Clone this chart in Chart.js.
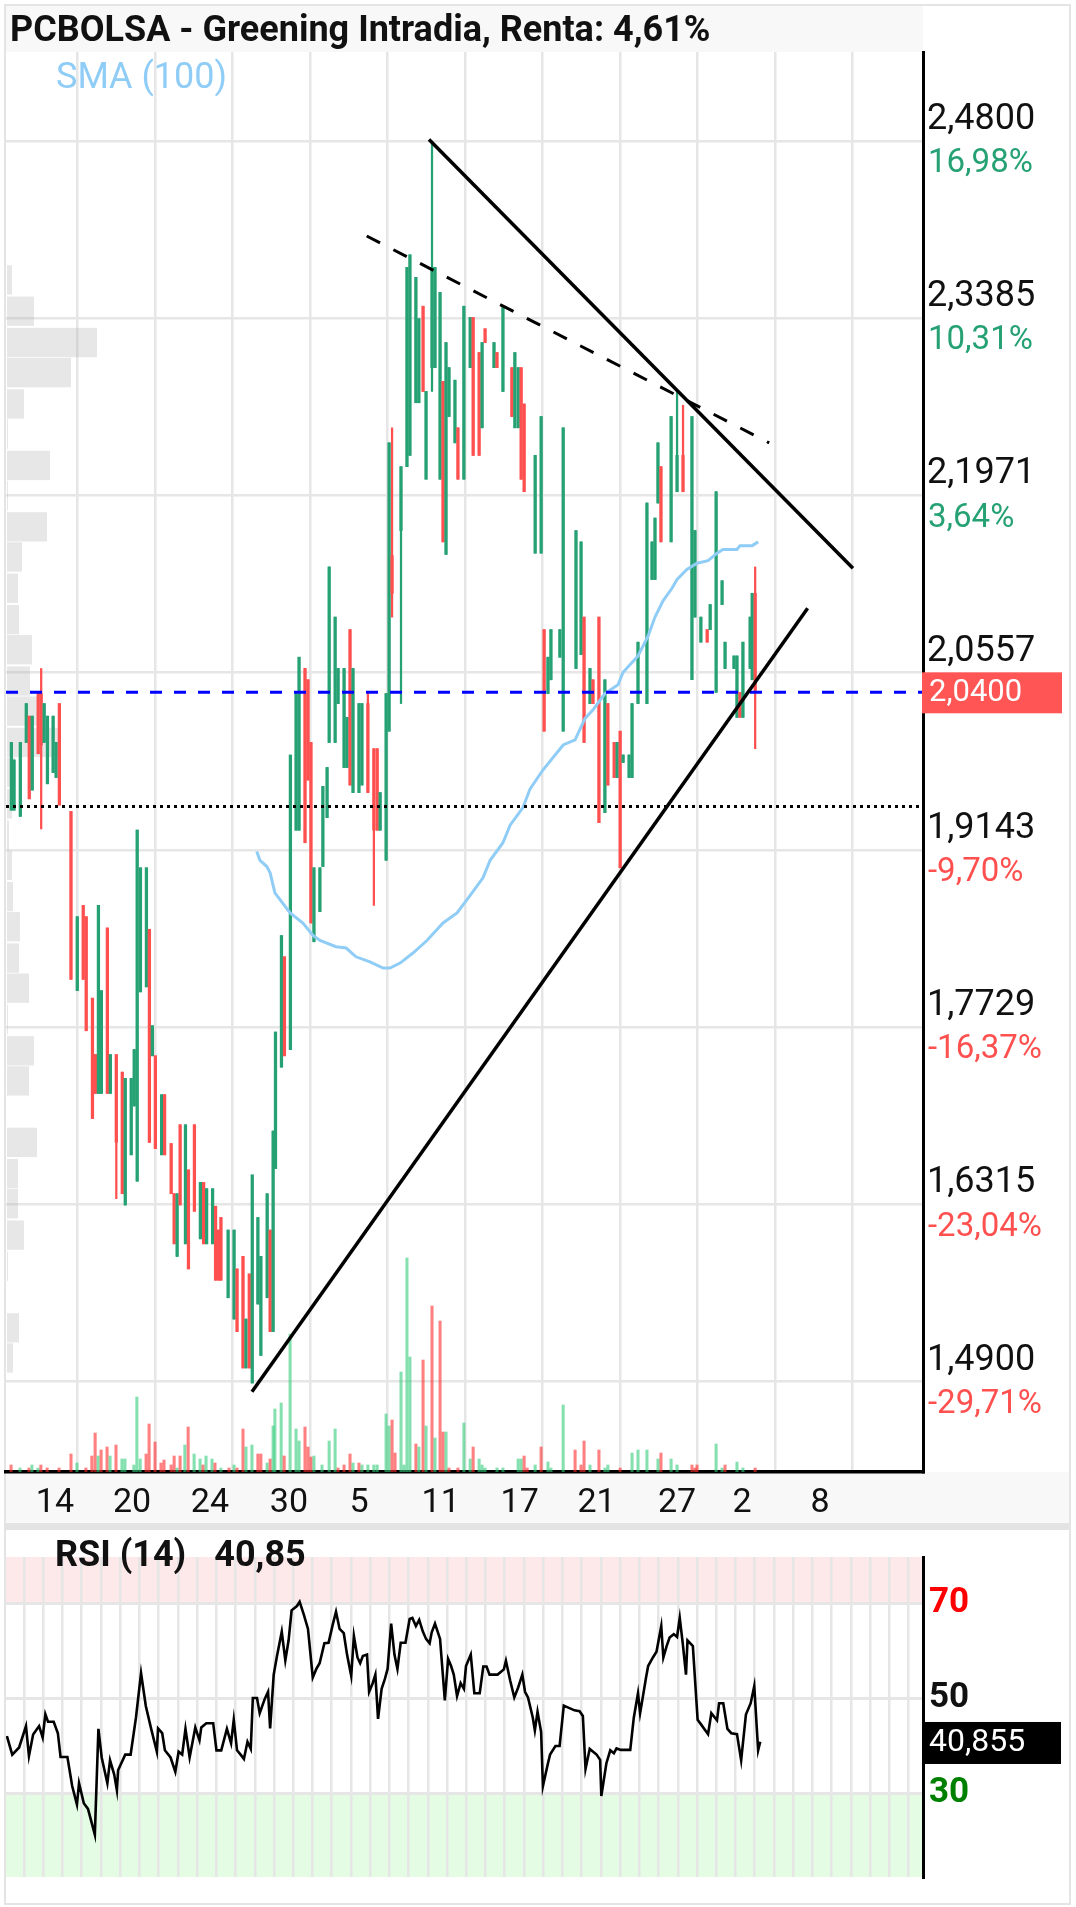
<!DOCTYPE html>
<html>
<head>
<meta charset="utf-8">
<script src="https://cdn.jsdelivr.net/npm/chart.js@4.4.1/dist/chart.umd.min.js"></script>
<style>
  html, body { margin: 0; padding: 0; background: #fff; }
  body { width: 1076px; height: 1907px; position: relative; overflow: hidden; font-family: Roboto, sans-serif; }
  #frame { position: absolute; left: 4px; top: 4px; width: 1063px; height: 1897px; border: 2px solid #e4e4e4; }
  #titleBar { position: absolute; left: 6px; top: 6px; width: 917px; height: 46px; background: #f8f8f8; }
  #title { position: absolute; left: 10px; top: 6px; height: 46px; line-height: 46px; font-weight: bold; font-size: 36px; color: #111; white-space: nowrap; z-index: 3; }
  #sma { position: absolute; left: 56px; top: 56px; line-height: 40px; font-size: 36px; color: #90cdf6; z-index: 3; }
  #dateBand { position: absolute; left: 6px; top: 1472px; width: 1063px; height: 51px; background: #f8f8f8; }
  #sep { position: absolute; left: 6px; top: 1523px; width: 1063px; height: 7px; background: #e3e3e3; }
  #mainCanvas { position: absolute; left: 0; top: 0; z-index: 2; }
  #rsiCanvas { position: absolute; left: 0; top: 1530px; z-index: 2; }
  #rsiLabel { position: absolute; left: 55px; top: 1534px; line-height: 40px; font-weight: bold; font-size: 36px; color: #111; white-space: nowrap; z-index: 3; }
  #rsiLabel span { margin-left: 28px; }
</style>
</head>
<body>
<div id="frame"></div>
<div id="titleBar"></div>
<div id="title">PCBOLSA - Greening Intradia, Renta: 4,61%</div>
<div id="sma">SMA (100)</div>
<div id="dateBand"></div>
<div id="sep"></div>
<canvas id="mainCanvas" width="1076" height="1528"></canvas>
<canvas id="rsiCanvas" width="1076" height="374"></canvas>
<div id="rsiLabel">RSI (14)<span>40,85</span></div>
<script>
// x axis is in bar slots (one intraday bar per slot)
const xMax = 307.6
const gridSlots = [24, 50, 76, 102, 128, 154, 180, 206, 232, 258, 284]
const dateSlots = [16.4, 42.3, 68.4, 94.9, 118.4, 145.8, 172.3, 198.1, 225.1, 246.9, 273.1]
const dateLabels = ['14', '20', '24', '30', '5', '11', '17', '21', '27', '2', '8']

const priceTicks = [2.48, 2.3385, 2.1971, 2.0557, 1.9143, 1.7729, 1.6315, 1.49]
const pctLabels = ['16,98%', '10,31%', '3,64%', '-3,03%', '-9,70%', '-16,37%', '-23,04%', '-29,71%']
const yMin = 1.418
const yMax = 2.5508

const lastClose = 2.04
const refLevel = 1.949

// candles
const cSlot = [
  1.8, 2.7, 4.8, 6.8, 7.8, 8.8, 10.8, 11.8, 12.8, 13.9,
  15.8, 16.8, 17.9, 21.8, 23.9, 25.9, 26.9, 29.0, 30.0, 31.0,
  32.0, 34.0, 35.0, 37.0, 39.0, 40.0, 42.0, 43.0, 44.0, 45.1,
  47.1, 48.1, 49.1, 50.1, 52.2, 53.2, 55.4, 56.4, 57.4, 58.4,
  60.2, 61.2, 63.2, 65.2, 66.3, 67.3, 69.3, 70.3, 71.3, 72.1,
  74.5, 76.5, 77.5, 79.5, 80.5, 81.6, 82.6, 84.5, 85.5, 87.6,
  88.6, 89.6, 90.4, 92.4, 93.4, 95.4, 97.3, 98.3, 100.3, 101.3,
  102.3, 103.3, 105.3, 106.3, 107.7, 108.4, 110.4, 111.4, 113.4, 114.4,
  115.4, 116.4, 118.4, 119.4, 121.4, 123.4, 124.5, 125.5, 127.5, 128.5,
  129.5, 132.5, 134.5, 135.5, 137.5, 138.5, 139.9, 140.9, 142.9, 143.9,
  145.6, 146.6, 147.6, 148.6, 150.6, 151.6, 153.6, 155.7, 156.7, 158.7,
  159.7, 160.7, 163.7, 164.7, 166.7, 169.7, 170.7, 171.8, 172.8, 173.8,
  177.5, 179.5, 180.5, 181.8, 182.8, 185.8, 186.9, 191.2, 192.9, 193.9,
  195.9, 196.9, 198.9, 200.9, 201.9, 204.0, 205.0, 206.0, 207.0, 209.0,
  210.0, 212.0, 215.0, 216.7, 217.7, 218.7, 219.7, 223.1, 225.1, 227.1,
  230.1, 231.1, 233.1, 235.2, 236.2, 238.2, 240.2, 241.2, 244.2, 245.2,
  246.2, 247.2, 249.6, 250.3, 251.3
]
const cOpen = [
  1.946, 1.946, 1.941, 2.000, 2.021, 1.962, 2.040, 2.039, 2.000, 1.967,
  1.976, 1.972, 2.031, 1.945, 1.802, 1.870, 1.861, 1.796, 1.751, 1.720,
  1.720, 1.852, 1.720, 1.751, 1.737, 1.631, 1.671, 1.710, 1.650, 1.801,
  1.805, 1.851, 1.750, 1.750, 1.671, 1.719, 1.680, 1.640, 1.590, 1.695,
  1.600, 1.659, 1.695, 1.604, 1.649, 1.600, 1.600, 1.630, 1.611, 1.621,
  1.557, 1.540, 1.580, 1.590, 1.501, 1.576, 1.489, 1.552, 1.511, 1.557,
  1.611, 1.530, 1.660, 1.741, 1.829, 1.755, 1.930, 1.930, 2.059, 2.050,
  2.000, 1.841, 1.865, 1.901, 1.940, 2.000, 2.000, 2.031, 1.980, 1.980,
  2.090, 1.960, 1.960, 1.966, 2.031, 1.995, 1.995, 1.930, 1.906, 2.009,
  2.149, 2.169, 2.220, 2.229, 2.271, 2.271, 2.348, 2.210, 2.299, 2.299,
  2.210, 2.288, 2.150, 2.260, 2.239, 2.251, 2.210, 2.299, 2.339, 2.311,
  2.251, 2.330, 2.299, 2.311, 2.280, 2.299, 2.251, 2.251, 2.299, 2.270,
  2.151, 2.151, 2.090, 2.039, 2.050, 2.068, 2.009, 2.059, 2.070, 2.100,
  2.031, 2.050, 2.100, 1.944, 2.031, 2.000, 1.972, 2.009, 1.984, 1.972,
  1.972, 2.031, 2.031, 2.130, 2.130, 2.191, 2.220, 2.160, 2.200, 2.229,
  2.050, 2.100, 2.080, 2.090, 2.090, 2.040, 2.110, 2.059, 2.059, 2.020,
  2.040, 2.020, 2.059, 2.050, 2.119
]
const cHigh = [
  2.000, 1.986, 2.000, 2.031, 2.021, 2.021, 2.040, 2.059, 2.031, 2.021,
  2.021, 2.000, 2.031, 1.945, 1.861, 1.870, 1.861, 1.796, 1.751, 1.870,
  1.802, 1.852, 1.751, 1.751, 1.737, 1.732, 1.732, 1.755, 1.930, 1.900,
  1.900, 1.851, 1.774, 1.750, 1.719, 1.719, 1.680, 1.640, 1.640, 1.695,
  1.695, 1.659, 1.695, 1.649, 1.649, 1.644, 1.644, 1.630, 1.611, 1.621,
  1.611, 1.611, 1.580, 1.590, 1.540, 1.576, 1.655, 1.621, 1.590, 1.640,
  1.611, 1.690, 1.769, 1.846, 1.829, 1.990, 2.039, 2.068, 2.059, 2.050,
  2.000, 1.900, 1.900, 1.965, 1.980, 2.140, 2.100, 2.059, 2.059, 2.020,
  2.090, 2.059, 2.031, 2.031, 2.039, 1.995, 1.995, 1.960, 2.039, 2.239,
  2.251, 2.220, 2.379, 2.389, 2.371, 2.338, 2.348, 2.280, 2.479, 2.379,
  2.359, 2.288, 2.319, 2.299, 2.289, 2.251, 2.348, 2.339, 2.339, 2.311,
  2.319, 2.330, 2.319, 2.311, 2.348, 2.299, 2.311, 2.299, 2.299, 2.270,
  2.229, 2.260, 2.090, 2.068, 2.090, 2.090, 2.251, 2.169, 2.160, 2.100,
  2.059, 2.050, 2.100, 2.050, 2.031, 2.000, 2.000, 2.009, 1.990, 1.990,
  2.031, 2.080, 2.191, 2.160, 2.179, 2.239, 2.220, 2.260, 2.280, 2.269,
  2.260, 2.169, 2.100, 2.090, 2.110, 2.200, 2.129, 2.080, 2.069, 2.069,
  2.040, 2.080, 2.100, 2.119, 2.140
]
const cLow = [
  1.946, 1.946, 1.941, 2.000, 1.955, 1.962, 1.991, 1.931, 2.000, 1.967,
  1.976, 1.972, 1.950, 1.811, 1.802, 1.811, 1.770, 1.700, 1.720, 1.720,
  1.720, 1.720, 1.720, 1.636, 1.640, 1.631, 1.671, 1.710, 1.650, 1.801,
  1.805, 1.681, 1.750, 1.676, 1.671, 1.671, 1.640, 1.600, 1.590, 1.631,
  1.600, 1.580, 1.626, 1.604, 1.600, 1.600, 1.600, 1.571, 1.571, 1.571,
  1.557, 1.540, 1.530, 1.501, 1.501, 1.501, 1.489, 1.552, 1.511, 1.557,
  1.530, 1.530, 1.660, 1.741, 1.750, 1.755, 1.930, 1.930, 1.920, 1.970,
  1.856, 1.841, 1.865, 1.901, 1.940, 2.000, 2.000, 2.031, 1.980, 1.980,
  1.966, 1.960, 1.960, 1.966, 1.960, 1.870, 1.930, 1.930, 1.906, 2.009,
  2.100, 2.031, 2.220, 2.229, 2.271, 2.271, 2.280, 2.210, 2.280, 2.299,
  2.210, 2.160, 2.150, 2.260, 2.239, 2.210, 2.210, 2.299, 2.229, 2.229,
  2.251, 2.319, 2.299, 2.299, 2.280, 2.260, 2.251, 2.251, 2.210, 2.200,
  2.151, 2.151, 2.009, 2.039, 2.050, 2.068, 2.009, 2.059, 2.070, 2.000,
  2.031, 2.031, 1.936, 1.944, 1.966, 1.972, 1.972, 1.900, 1.984, 1.972,
  1.972, 2.031, 2.031, 2.130, 2.130, 2.191, 2.160, 2.160, 2.200, 2.200,
  2.050, 2.100, 2.080, 2.080, 2.090, 2.040, 2.110, 2.059, 2.059, 2.020,
  2.020, 2.020, 2.059, 2.050, 1.995
]
const cClose = [
  2.000, 1.986, 2.000, 2.031, 1.955, 2.021, 1.991, 1.998, 2.031, 2.021,
  2.021, 2.000, 1.950, 1.811, 1.861, 1.811, 1.770, 1.700, 1.720, 1.870,
  1.802, 1.720, 1.751, 1.681, 1.640, 1.732, 1.732, 1.755, 1.930, 1.900,
  1.900, 1.681, 1.774, 1.676, 1.719, 1.671, 1.640, 1.600, 1.640, 1.631,
  1.695, 1.580, 1.626, 1.649, 1.600, 1.644, 1.644, 1.571, 1.571, 1.571,
  1.611, 1.611, 1.530, 1.501, 1.540, 1.501, 1.655, 1.621, 1.590, 1.640,
  1.530, 1.690, 1.769, 1.846, 1.750, 1.990, 2.039, 2.068, 1.920, 1.970,
  1.856, 1.900, 1.900, 1.965, 1.980, 2.140, 2.100, 2.059, 2.059, 2.020,
  1.966, 2.059, 2.031, 2.031, 1.960, 1.930, 1.930, 1.960, 2.039, 2.239,
  2.119, 2.220, 2.379, 2.389, 2.371, 2.338, 2.280, 2.280, 2.379, 2.379,
  2.359, 2.160, 2.319, 2.299, 2.289, 2.210, 2.348, 2.339, 2.229, 2.229,
  2.319, 2.319, 2.319, 2.299, 2.348, 2.260, 2.311, 2.299, 2.210, 2.200,
  2.229, 2.260, 2.009, 2.068, 2.090, 2.090, 2.251, 2.169, 2.160, 2.000,
  2.059, 2.031, 1.936, 2.050, 1.966, 1.972, 2.000, 1.900, 1.990, 1.990,
  2.031, 2.080, 2.191, 2.160, 2.179, 2.239, 2.160, 2.260, 2.229, 2.200,
  2.260, 2.169, 2.100, 2.080, 2.110, 2.200, 2.129, 2.080, 2.069, 2.069,
  2.020, 2.080, 2.100, 2.119, 2.040
]

// volume (relative units)
const volSlot = [
  1.7, 4.7, 7.7, 8.7, 10.7, 11.7, 13.8, 17.8, 21.8, 23.8,
  26.8, 28.8, 29.9, 30.9, 31.9, 33.9, 34.9, 36.9, 38.9, 39.9,
  42.9, 43.9, 45.0, 47.0, 48.0, 50.0, 52.0, 53.0, 55.4, 56.4,
  57.4, 58.4, 60.0, 61.1, 63.1, 65.1, 66.1, 67.1, 69.1, 70.1,
  72.1, 74.8, 76.5, 77.5, 79.5, 80.5, 82.5, 84.5, 85.5, 87.6,
  88.6, 89.6, 90.2, 92.3, 93.3, 95.3, 97.3, 98.3, 100.3, 101.3,
  102.3, 103.3, 106.0, 108.4, 110.4, 111.4, 113.4, 115.4, 116.4, 118.4,
  119.4, 121.4, 123.4, 124.5, 127.5, 128.5, 129.5, 130.5, 132.5, 133.5,
  134.5, 135.5, 137.5, 138.5, 139.9, 140.9, 142.9, 143.9, 145.6, 146.6,
  147.6, 148.6, 151.6, 153.6, 155.7, 156.7, 158.7, 159.7, 160.7, 164.7,
  166.7, 171.8, 172.8, 173.8, 174.8, 177.5, 179.5, 181.8, 182.8, 186.9,
  190.9, 192.9, 193.9, 195.9, 198.9, 200.9, 201.9, 206.0, 210.0, 212.0,
  215.0, 218.7, 219.7, 223.1, 225.1, 230.1, 231.1, 231.8, 238.2, 240.2,
  241.2, 245.2, 247.2, 251.3
]
const volValue = [
  7, 4, 4, 7, 4, 7, 4, 4, 18, 9,
  4, 16, 39, 16, 22, 25, 16, 27, 13, 13,
  7, 75, 13, 18, 48, 30, 9, 12, 7, 16,
  4, 16, 27, 45, 18, 13, 7, 16, 13, 9,
  4, 4, 7, 4, 43, 25, 27, 18, 18, 9,
  13, 46, 63, 69, 16, 138, 43, 31, 45, 25,
  15, 16, 7, 31, 43, 4, 7, 18, 9, 9,
  7, 7, 7, 7, 58, 46, 52, 19, 100, 7,
  214, 115, 28, 25, 112, 46, 166, 34, 151, 40,
  40, 4, 4, 49, 13, 25, 13, 7, 4, 4,
  4, 13, 13, 16, 4, 7, 25, 10, 4, 67,
  22, 7, 31, 7, 22, 4, 7, 4, 19, 22,
  22, 13, 19, 13, 7, 7, 4, 7, 28, 4,
  7, 10, 4, 4
]
const volUp = [
  0, 1, 0, 1, 1, 0, 0, 0, 0, 1,
  0, 0, 0, 1, 0, 0, 1, 0, 1, 1,
  1, 1, 1, 0, 0, 0, 0, 0, 0, 0,
  1, 0, 1, 0, 1, 1, 0, 1, 1, 0,
  1, 0, 1, 0, 0, 1, 1, 0, 0, 1,
  0, 1, 1, 1, 0, 1, 1, 1, 0, 0,
  0, 1, 1, 1, 1, 0, 0, 0, 1, 0,
  1, 1, 1, 1, 1, 1, 0, 0, 1, 1,
  1, 1, 0, 1, 0, 1, 0, 1, 0, 0,
  1, 0, 0, 1, 1, 0, 1, 1, 1, 1,
  1, 1, 1, 0, 0, 1, 0, 1, 1, 1,
  0, 0, 0, 1, 0, 1, 1, 0, 1, 1,
  1, 1, 0, 1, 1, 0, 0, 0, 1, 1,
  0, 1, 1, 0
]

// volume by price (left profile)
const vpPrice = [
  2.369, 2.344, 2.319, 2.295, 2.270, 2.246, 2.221, 2.197, 2.172, 2.148,
  2.123, 2.098, 2.074, 2.049, 2.025, 2.000, 1.976, 1.951, 1.926, 1.902,
  1.877, 1.853, 1.828, 1.804, 1.779, 1.754, 1.730, 1.705, 1.681, 1.656,
  1.632, 1.607, 1.582, 1.558, 1.533, 1.509
]
const vpVol = [
  12, 34, 97, 71, 24, 8, 50, 8, 47, 22,
  18, 19, 32, 30, 37, 58, 15, 12, 9, 12,
  13, 20, 19, 29, 8, 34, 29, 0, 37, 18,
  18, 24, 8, 0, 19, 13
]

// SMA(100)
const smaX = [
  84.1, 85.2, 87.5, 88.6, 90.2, 95.3, 99.6, 103.0, 105.3, 110.7,
  114.1, 117.4, 122.1, 126.5, 128.8, 132.2, 136.5, 141.2, 146.6, 151.3,
  155.7, 160.0, 162.4, 166.7, 169.1, 173.4, 175.8, 180.1, 183.5, 186.9,
  190.9, 194.2, 196.9, 200.9, 205.3, 207.0, 212.0, 215.4, 217.7, 220.4,
  223.4, 225.1, 228.4, 231.8, 235.5, 238.5, 240.5, 245.2, 246.2, 250.3,
  252.3
]
const smaY = [
  1.913, 1.906, 1.901, 1.896, 1.880, 1.864, 1.856, 1.846, 1.842, 1.837,
  1.836, 1.829, 1.825, 1.820, 1.820, 1.824, 1.832, 1.842, 1.856, 1.864,
  1.878, 1.892, 1.906, 1.920, 1.934, 1.948, 1.963, 1.978, 1.988, 1.998,
  2.002, 2.019, 2.026, 2.039, 2.046, 2.056, 2.069, 2.085, 2.100, 2.113,
  2.123, 2.130, 2.138, 2.143, 2.145, 2.151, 2.154, 2.154, 2.157, 2.157,
  2.160
]

// drawn trend lines [slot, price]
const resistLine = [[141.9, 2.481], [284.1, 2.139]]
const supportLine = [[82.5, 1.482], [268.9, 2.107]]
const dashedLine = [[121.0, 2.404], [256.0, 2.239]]

// RSI(14)
const rsiX = [
  0.3, 2.1, 4.4, 6.7, 7.7, 9.1, 11.1, 12.3, 13.2, 14.1,
  16.0, 17.4, 18.3, 20.6, 22.2, 23.8, 24.5, 26.1, 27.5, 29.8,
  31.0, 32.1, 34.0, 34.9, 36.3, 37.2, 37.6, 40.0, 41.8, 43.6,
  45.3, 46.9, 48.7, 50.6, 51.0, 52.4, 53.3, 55.2, 56.8, 57.9,
  59.1, 60.2, 61.6, 62.5, 63.5, 64.9, 65.5, 67.2, 69.5, 70.6,
  72.2, 74.1, 75.5, 76.4, 77.5, 78.7, 79.8, 81.0, 82.1, 82.8,
  84.2, 85.1, 86.8, 87.9, 88.6, 89.8, 90.9, 92.5, 93.7, 94.8,
  95.8, 97.6, 98.5, 99.9, 101.3, 102.9, 104.1, 105.2, 106.8, 108.2,
  109.6, 110.7, 111.9, 113.3, 114.4, 115.8, 116.7, 117.9, 118.8, 119.7,
  121.1, 121.8, 123.0, 123.9, 124.8, 126.0, 127.1, 128.0, 129.2, 130.3,
  131.3, 132.4, 134.0, 135.4, 136.3, 137.5, 138.6, 139.8, 140.9, 142.1,
  142.8, 143.9, 145.6, 147.2, 148.3, 149.3, 150.2, 151.3, 152.5, 153.6,
  154.3, 155.9, 157.1, 158.9, 160.1, 161.2, 162.2, 164.9, 167.0, 167.7,
  169.1, 170.5, 171.8, 173.2, 174.1, 175.1, 176.7, 177.4, 178.3, 179.5,
  180.1, 181.8, 182.5, 184.3, 185.7, 187.1, 190.7, 192.4, 193.5, 194.4,
  195.8, 198.1, 199.3, 199.7, 201.4, 202.7, 203.9, 204.8, 206.2, 207.4,
  209.4, 210.6, 212.0, 212.7, 213.3, 214.7, 215.4, 217.0, 218.2, 219.8,
  220.5, 221.6, 222.6, 224.0, 225.1, 226.0, 227.0, 228.1, 228.6, 230.4,
  232.0, 233.2, 235.5, 236.6, 238.5, 239.2, 240.6, 242.0, 243.3, 245.2,
  246.6, 248.2, 249.8, 251.0, 252.3, 253.0
]
const rsiY = [
  42.1, 38.2, 39.7, 44.2, 37.9, 42.4, 44.2, 41.8, 46.7, 45.1,
  45.1, 42.7, 37.7, 37.7, 31.6, 27.7, 32.2, 28.0, 26.8, 21.4,
  43.6, 37.6, 32.2, 37.0, 34.0, 30.7, 34.9, 38.2, 38.2, 46.0,
  55.3, 48.4, 43.6, 38.8, 43.7, 42.7, 39.1, 37.6, 34.6, 38.8,
  38.2, 43.6, 37.6, 40.6, 43.9, 41.2, 43.9, 44.8, 44.8, 39.1,
  39.1, 43.6, 40.6, 45.5, 39.1, 38.2, 37.3, 40.9, 39.4, 50.1,
  50.1, 46.9, 49.9, 51.4, 43.7, 55.0, 58.9, 64.0, 58.0, 62.2,
  68.5, 69.4, 70.3, 67.6, 64.6, 54.4, 56.2, 57.4, 61.6, 61.7,
  65.5, 68.2, 64.6, 63.7, 59.2, 54.7, 63.1, 58.6, 57.4, 58.9,
  59.2, 51.4, 53.2, 55.0, 45.7, 52.0, 54.1, 56.2, 65.7, 59.2,
  56.2, 61.7, 61.7, 66.7, 66.9, 65.2, 66.5, 64.1, 62.5, 61.6,
  63.9, 65.7, 62.5, 49.6, 58.3, 56.8, 55.0, 50.5, 53.2, 52.0,
  56.8, 59.2, 51.1, 51.1, 56.7, 56.7, 55.0, 55.0, 56.1, 57.9,
  53.8, 50.2, 52.3, 55.0, 51.4, 50.2, 46.0, 43.3, 47.2, 43.0,
  31.6, 36.4, 38.2, 40.0, 40.0, 48.5, 47.5, 47.3, 46.3, 35.2,
  39.4, 38.2, 37.1, 29.5, 36.4, 39.1, 38.5, 39.5, 39.2, 39.2,
  39.2, 46.0, 51.1, 46.9, 49.1, 54.4, 56.8, 58.6, 59.8, 65.2,
  58.6, 61.0, 62.8, 63.5, 62.9, 66.9, 61.6, 55.0, 62.2, 61.0,
  45.5, 44.5, 42.5, 46.9, 45.4, 49.0, 49.0, 43.6, 42.7, 42.5,
  37.0, 46.6, 49.0, 52.6, 39.1, 40.9
]
const rsiTicks = [30, 50, 70]
const lastRsi = 40.855
const rsiMin = 12.5
const rsiMax = 79.7

const GREEN = '#26a174'
const RED = '#ff5050'
const comma = (v, d) => v.toFixed(d).replace('.', ',')

// ---------- main chart ----------
const wicks = cSlot.map((x, i) => ({ x: x, y: [cLow[i], cHigh[i]] }))
const bodies = cSlot.map((x, i) => ({ x: x, y: [cOpen[i], cClose[i]] }))
const candleColors = cSlot.map((x, i) => cClose[i] >= cOpen[i] ? GREEN : RED)

const profilePlugin = {
  id: 'profile',
  beforeDatasetsDraw(chart) {
    const ctx = chart.ctx, ys = chart.scales.y, xs = chart.scales.xp, area = chart.chartArea
    const half = Math.abs(vpPrice[0] - vpPrice[1]) / 2
    ctx.save()
    ctx.fillStyle = 'rgba(170,170,170,0.28)'
    vpPrice.forEach((p, i) => {
      if (!vpVol[i]) return
      const top = ys.getPixelForValue(p + half)
      const bot = ys.getPixelForValue(p - half)
      ctx.fillRect(area.left + 1, top + 1, xs.getPixelForValue(vpVol[i]) - area.left - 1, bot - top - 2)
    })
    ctx.restore()
  }
}

const axisTextPlugin = {
  id: 'axisText',
  afterDraw(chart) {
    const ctx = chart.ctx, ys = chart.scales.y, area = chart.chartArea
    ctx.save()
    ctx.textBaseline = 'middle'
    ctx.textAlign = 'left'
    ctx.font = '33px Roboto'
    priceTicks.forEach((v, i) => {
      ctx.fillStyle = pctLabels[i].startsWith('-') ? RED : GREEN
      ctx.fillText(pctLabels[i], area.right + 5, ys.getPixelForValue(v) + 23)
    })
    const yp = ys.getPixelForValue(lastClose)
    ctx.fillStyle = '#ff5555'
    ctx.fillRect(area.right - 1, yp - 20, 140, 41)
    ctx.fillStyle = '#fff'
    ctx.font = '31px Roboto'
    ctx.fillText(comma(lastClose, 4), area.right + 6, yp + 1)
    ctx.restore()
  }
}

const lineDs = (pts, color, width, dash, order) => ({
  type: 'line',
  data: pts.map(p => ({ x: p[0], y: p[1] })),
  borderColor: color,
  borderWidth: width,
  borderDash: dash,
  pointRadius: 0,
  tension: 0,
  order: order
})

new Chart(document.getElementById('mainCanvas'), {
  type: 'bar',
  data: {
    datasets: [
      lineDs(resistLine, '#000', 3.5, [], 1),
      lineDs(supportLine, '#000', 3.5, [], 1),
      lineDs(dashedLine, '#000', 3, [15, 15], 1),
      lineDs([[0, lastClose], [xMax, lastClose]], '#0000ff', 3, [12, 12], 2),
      lineDs([[0, refLevel], [xMax, refLevel]], '#000', 3, [3, 4], 2),
      {
        type: 'line',
        data: smaX.map((x, i) => ({ x: x, y: smaY[i] })),
        borderColor: '#90cdf6',
        borderWidth: 3,
        pointRadius: 0,
        tension: 0,
        order: 3
      },
      {
        type: 'bar',
        data: bodies,
        backgroundColor: candleColors,
        barThickness: 2.6,
        grouped: false,
        minBarLength: 1,
        order: 4
      },
      {
        type: 'bar',
        data: wicks,
        backgroundColor: candleColors,
        barThickness: 1.6,
        grouped: false,
        order: 5
      },
      {
        type: 'bar',
        yAxisID: 'yv',
        data: volSlot.map((x, i) => ({ x: x, y: volValue[i] })),
        backgroundColor: volUp.map(u => u ? 'rgba(52,203,123,0.6)' : 'rgba(255,43,43,0.6)'),
        barThickness: 2.4,
        grouped: false,
        order: 6
      }
    ]
  },
  options: {
    responsive: false,
    animation: false,
    devicePixelRatio: 1,
    layout: { padding: { left: 6, top: 52, right: 0, bottom: 0 } },
    plugins: { legend: { display: false }, tooltip: { enabled: false } },
    scales: {
      x: {
        type: 'linear',
        min: 0,
        max: xMax,
        offset: false,
        afterBuildTicks: ax => {
          ax.ticks = gridSlots.concat(dateSlots).sort((a, b) => a - b).map(v => ({ value: v }))
        },
        ticks: {
          autoSkip: false,
          maxRotation: 0,
          padding: 11,
          color: '#111',
          font: { family: 'Roboto', size: 34 },
          callback: v => {
            const i = dateSlots.indexOf(v)
            return i >= 0 ? dateLabels[i] : ''
          }
        },
        grid: {
          offset: false,
          color: ctx => (ctx.tick && gridSlots.includes(ctx.tick.value)) ? '#e6e6e6' : 'rgba(0,0,0,0)',
          lineWidth: 2.5,
          drawTicks: false
        },
        border: { color: '#000', width: 3.5 },
        afterFit: s => { s.height = 56 }
      },
      y: {
        type: 'linear',
        position: 'right',
        min: yMin,
        max: yMax,
        afterBuildTicks: ax => { ax.ticks = priceTicks.map(v => ({ value: v })) },
        ticks: {
          padding: 4,
          labelOffset: -21,
          color: '#111',
          font: { family: 'Roboto', size: 36 },
          callback: v => comma(v, 4)
        },
        grid: { color: '#e6e6e6', lineWidth: 2.5, drawTicks: false },
        border: { color: '#000', width: 3 },
        afterFit: s => { s.width = 153 }
      },
      yv: { type: 'linear', display: false, min: 0, max: 1420 },
      // profile bar ends are read as plot x positions
      xp: { type: 'linear', axis: 'x', position: 'bottom', display: false, offset: false, grid: { offset: false }, min: 6, max: 923 }
    }
  },
  plugins: [profilePlugin, axisTextPlugin]
})

// ---------- RSI chart ----------
const rsiGridStep = 6.45
const rsiGridStart = 6.05

const rsiBandsPlugin = {
  id: 'rsiBands',
  beforeDraw(chart) {
    const ctx = chart.ctx, ys = chart.scales.y, a = chart.chartArea
    ctx.save()
    ctx.fillStyle = '#fde9ea'
    ctx.fillRect(a.left, a.top, a.right - a.left, ys.getPixelForValue(70) - a.top)
    ctx.fillStyle = '#e4fbe4'
    ctx.fillRect(a.left, ys.getPixelForValue(30), a.right - a.left, a.bottom - ys.getPixelForValue(30))
    ctx.restore()
  },
  afterDraw(chart) {
    const ctx = chart.ctx, ys = chart.scales.y, a = chart.chartArea
    const yp = ys.getPixelForValue(lastRsi)
    ctx.save()
    ctx.fillStyle = '#000'
    ctx.fillRect(a.right - 1, yp - 20, 139, 42)
    ctx.fillStyle = '#fff'
    ctx.font = '32px Roboto'
    ctx.textBaseline = 'middle'
    ctx.fillText(comma(lastRsi, 3), a.right + 6, yp + 1)
    ctx.restore()
  }
}

new Chart(document.getElementById('rsiCanvas'), {
  type: 'line',
  data: {
    datasets: [{
      data: rsiX.map((x, i) => ({ x: x, y: rsiY[i] })),
      borderColor: '#000',
      borderWidth: 2.6,
      pointRadius: 0,
      tension: 0
    }]
  },
  options: {
    responsive: false,
    animation: false,
    devicePixelRatio: 1,
    layout: { padding: { left: 6, top: 0, right: 0, bottom: 0 } },
    plugins: { legend: { display: false }, tooltip: { enabled: false } },
    scales: {
      x: {
        type: 'linear',
        min: 0,
        max: xMax,
        offset: false,
        afterBuildTicks: ax => {
          const t = []
          for (let v = rsiGridStart; v < xMax; v += rsiGridStep) t.push({ value: v })
          ax.ticks = t
        },
        ticks: { display: false },
        grid: { color: '#e6e6e6', lineWidth: 2.5, drawTicks: false },
        border: { display: false },
        afterFit: s => { s.height = 0 }
      },
      y: {
        type: 'linear',
        position: 'right',
        min: rsiMin,
        max: rsiMax,
        afterBuildTicks: ax => { ax.ticks = rsiTicks.map(v => ({ value: v })) },
        ticks: {
          padding: 6,
          color: ctx => ctx.tick.value === 70 ? '#ff0000' : (ctx.tick.value === 30 ? '#008000' : '#111'),
          font: { family: 'Roboto', size: 35, weight: 'bold' }
        },
        grid: { color: '#e6e6e6', lineWidth: 3, drawTicks: false },
        border: { color: '#000', width: 3 },
        afterFit: s => { s.width = 153 }
      }
    }
  },
  plugins: [rsiBandsPlugin]
})
</script>
</body>
</html>
